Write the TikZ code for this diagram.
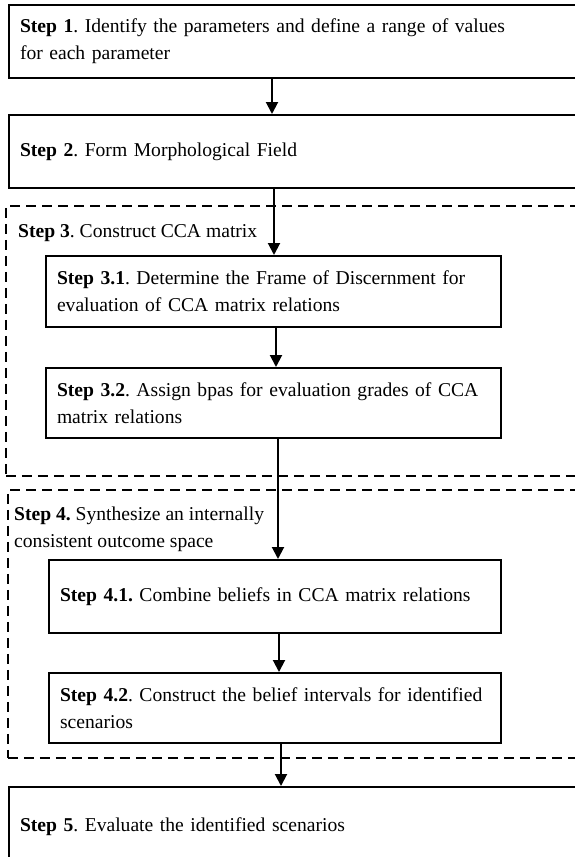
\documentclass[tikz,border=0pt]{standalone}
\usepackage{fontspec}
\setmainfont{Liberation Serif}
\usetikzlibrary{arrows.meta}
\frenchspacing
\begin{document}
\begin{tikzpicture}[x=1pt,y=-1pt,
 txt/.style={font=\fontsize{19.6}{27}\selectfont},
 stepbox/.style={draw, line width=2pt, rectangle, anchor=north west, align=left, inner xsep=11pt, inner ysep=0pt, txt},
 group/.style={draw, line width=1.8pt, dash pattern=on 10pt off 6pt, rectangle, anchor=north west, inner sep=0pt},
 arr/.style={line width=2pt, -{Triangle[length=12pt,width=12pt]}},
 lbl/.style={anchor=base west, inner sep=0pt, txt}]
\useasboundingbox (0,0) rectangle (574,857);
% dashed groups
\node[group, minimum width=600pt, minimum height=270pt] (g3) at (5,205) {};
\node[group, minimum width=600pt, minimum height=268pt] (g4) at (7,489) {};
\node[lbl] (l3) at (18,237) {\textbf{Step 3}. Construct CCA matrix};
\node[lbl, align=left] (l4) at (14,547) {\textbf{Step 4.} Synthesize an internally\\consistent outcome space};
% step boxes
\node[stepbox, minimum width=600pt, text width=578pt, minimum height=73pt] (s1) at (8,4)
 {\textbf{Step 1}. Identify the parameters and define a range of values\\for each parameter};
\node[stepbox, minimum width=600pt, text width=578pt, minimum height=73pt] (s2) at (8,114)
 {\textbf{Step 2}. Form Morphological Field};
\node[stepbox, minimum width=455pt, text width=433pt, minimum height=71pt] (s31) at (45,255)
 {\textbf{Step 3.1}. Determine the Frame of Discernment for\\evaluation of CCA matrix relations};
\node[stepbox, minimum width=455pt, text width=433pt, minimum height=70pt] (s32) at (45,367)
 {\textbf{Step 3.2}. Assign bpas for evaluation grades of CCA\\matrix relations};
\node[stepbox, minimum width=452pt, text width=430pt, minimum height=73pt] (s41) at (48,559)
 {\textbf{Step 4.1.} Combine beliefs in CCA matrix relations};
\node[stepbox, minimum width=452pt, text width=430pt, minimum height=70pt] (s42) at (48,672)
 {\textbf{Step 4.2}. Construct the belief intervals for identified\\scenarios};
\node[stepbox, minimum width=600pt, text width=578pt, minimum height=80pt] (s5) at (8,786)
 {\textbf{Step 5}. Evaluate the identified scenarios};
% connector columns
\coordinate (c1) at (272,0);
\coordinate (c2) at (274,0);
\coordinate (c3) at (276,0);
\coordinate (c4) at (278,0);
\coordinate (c5) at (279,0);
\coordinate (c6) at (281,0);
\draw[arr] (s1.south -| c1) -- (s2.north -| c1);
\draw[arr] (s2.south -| c2) -- (s31.north -| c2);
\draw[arr] (s31.south -| c3) -- (s32.north -| c3);
\draw[arr] (s32.south -| c4) -- (s41.north -| c4);
\draw[arr] (s41.south -| c5) -- (s42.north -| c5);
\draw[arr] (s42.south -| c6) -- (s5.north -| c6);
\end{tikzpicture}
\end{document}
